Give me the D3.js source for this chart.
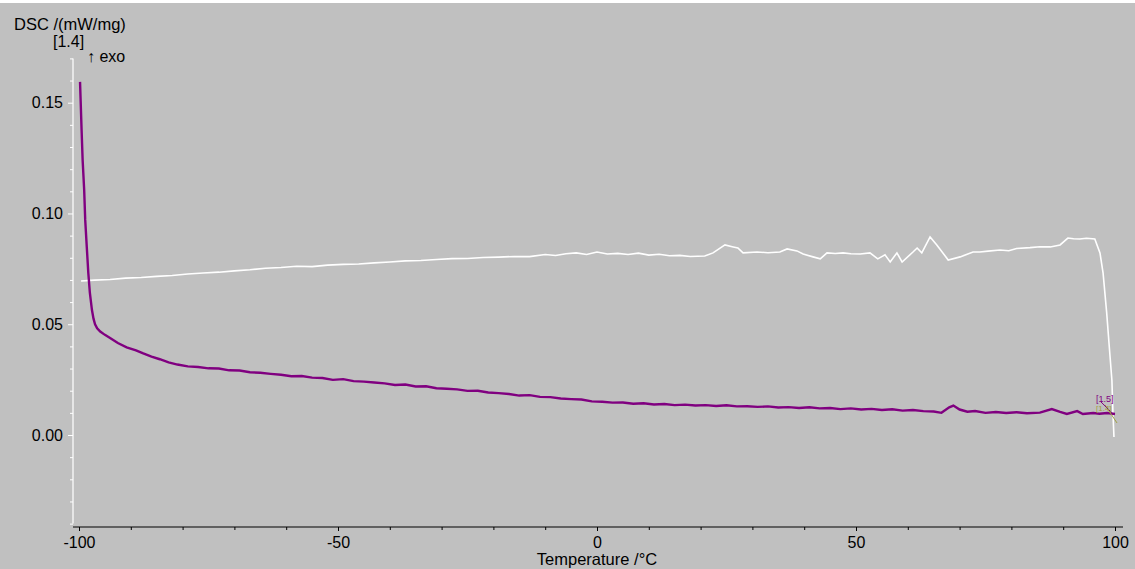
<!DOCTYPE html>
<html>
<head>
<meta charset="utf-8">
<script src="https://cdn.jsdelivr.net/npm/d3@7"></script>
<style>
  html, body { margin: 0; padding: 0; background: #c0c0c0; }
  svg { display: block; }
  text { font-family: "Liberation Sans", Arial, sans-serif; }
</style>
</head>
<body>
<svg id="chart" width="1135" height="569"></svg>
<script>
// DSC curves: temperature (°C) and heat flow (mW/mg)
const upperTemp = [-99.6,-97,-94,-91,-88,-85,-82,-79,-76,-73,-70,-67,-64,-61,-58,-55,-52,-49,-46,-43,-40,-37,-34,-31,-28,-25,-22,-19,-16,-13,-10,-8,-6,-4,-2,0,2,4,6,8,10,12,14,16,18,
  20.8,22.4,24.7,26.3,27.2,28.2,30.9,33,35.3,36.7,38.6,39.8,41.7,43.1,44.4,46,47.5,49,50.8,52.7,54.2,55.6,56.6,57.9,58.9,61.0,61.8,62.7,64.3,65.6,67.8,70.1,72.6,73.9,
  75.5,77.8,79.5,81,83.6,85.5,87.5,89.4,90.9,92,93.2,94.5,96.1,97.1,97.7,98.4,98.9,99.4,99.6,99.8];
const upperDsc = [0.0695,0.0699,0.0702,0.0708,0.0711,0.0716,0.0720,0.0727,0.0731,0.0735,0.0741,0.0746,0.0753,0.0756,0.0762,0.0760,0.0767,0.0770,0.0772,0.0777,0.0781,0.0786,0.0788,0.0792,0.0796,0.0797,0.0801,0.0803,0.0806,0.0805,0.0815,0.0810,0.0818,0.0822,0.0815,0.0826,0.0817,0.0820,0.0815,0.0821,0.0812,0.0816,0.0809,0.0811,0.0806,
  0.0808,0.0822,0.0858,0.0849,0.0844,0.0822,0.0826,0.0823,0.0826,0.0840,0.0831,0.0817,0.0804,0.0795,0.0822,0.0819,0.0822,0.0818,0.0817,0.0822,0.0795,0.0813,0.0781,0.0822,0.0781,0.0826,0.0844,0.0822,0.0894,0.0858,0.0790,0.0804,0.0826,0.0826,
  0.0830,0.0835,0.0832,0.0842,0.0846,0.0850,0.0849,0.0858,0.0889,0.0886,0.0885,0.0888,0.0885,0.0822,0.0731,0.0550,0.0397,0.0248,0.0100,-0.0009];

const lowerTemp = [-99.8,-99.5,-99.3,-99.0,-98.8,-98.5,-98.2,-97.9,-97.5,-97.2,-96.9,-96.5,-95.9,-95.0,-94.0,-92.5,-90.8,-89,-87.6,-86,-84.4,-82.7,
  -81,-79,-77,-75,-73,-71,-69,-67,-65,-63,-61,-59,-57,-55,-53,-51,-49,-47,-45,-43,-41,-39,-37,-35,-33,-31,-29,-27,-25,-23,-21,-19,-17,-15,-13,-11,-9,-7,-5,-3,-1,
  1,3,5,7,9,11,13,15,17,19,21,23,25,27,29,31,33,35,37,39,41,43,45,47,49,51,53,55,57,59,61,63,65,66.5,68,68.8,70,71.5,73,75,77,79,81,83,
  85.5,87.8,89.4,90.7,92.7,93.8,95.8,97,98.5,100];
const lowerDsc = [0.1594,0.1377,0.1242,0.1106,0.0971,0.0849,0.0731,0.0641,0.0564,0.0525,0.0500,0.0482,0.0467,0.0452,0.0438,0.0415,0.0396,0.0382,0.0368,0.0354,0.0342,0.0328,
  0.0318,0.0310,0.0307,0.0301,0.0300,0.0292,0.0291,0.0283,0.0281,0.0276,0.0272,0.0265,0.0266,0.0259,0.0257,0.0249,0.0252,0.0243,0.0241,0.0237,0.0233,0.0226,0.0228,0.0219,0.0220,0.0211,0.0209,0.0206,0.0199,0.0200,0.0192,0.0189,0.0185,0.0178,0.0180,0.0172,0.0171,0.0165,0.0162,0.0160,0.0152,
  0.0150,0.0146,0.0147,0.0141,0.0143,0.0138,0.0140,0.0135,0.0137,0.0133,0.0135,0.0131,0.0134,0.0129,0.0130,0.0127,0.0129,0.0124,0.0126,0.0122,0.0125,0.0120,0.0122,0.0117,0.0120,0.0115,0.0118,0.0113,0.0116,0.0110,0.0113,0.0108,0.0106,0.0100,0.0125,0.0133,0.0115,0.0105,0.0108,0.0100,0.0104,0.0099,0.0103,0.0098,
  0.0101,0.0117,0.0104,0.0095,0.0108,0.0095,0.0099,0.0096,0.0099,0.0095];

const xMajor = [-100, -50, 0, 50, 100];
const yMajor = [0.00, 0.05, 0.10, 0.15];

const svg = d3.select("#chart");
const x = d3.scaleLinear().domain([-100, 100]).range([79, 1115]);
const y = d3.scaleLinear().domain([0, 0.15]).range([435, 102.7]);

// thin white strip along the top edge
svg.append("rect").attr("x", 0).attr("y", 0).attr("width", 1135).attr("height", 3).attr("fill", "#ffffff");

// Y axis (white line, white ticks)
const yMinor = d3.range(-4, 18).map(i => i / 100).filter(v => !yMajor.some(m => Math.abs(m - v) < 1e-9));
const yMinorG = svg.append("g").attr("transform", "translate(73,0)")
  .call(d3.axisLeft(y).tickValues(yMinor).tickSize(3).tickFormat(""));
yMinorG.select(".domain").remove();
yMinorG.selectAll("line").attr("stroke", "#ffffff");
const yG = svg.append("g").attr("transform", "translate(73,0)")
  .call(d3.axisLeft(y).tickValues(yMajor).tickSize(5).tickPadding(5).tickFormat(d3.format(".2f")));
yG.select(".domain").remove();
yG.selectAll("line").attr("stroke", "#ffffff");
yG.selectAll("text").attr("fill", "#000").style("font-size", "16px");
svg.append("line").attr("x1", 73).attr("x2", 73).attr("y1", y(0.17)).attr("y2", y(-0.04))
  .attr("stroke", "#ffffff").attr("stroke-width", 1.2);

// X axis (black)
const xMinor = d3.range(-100, 101, 10).filter(v => !xMajor.includes(v));
const xMinorG = svg.append("g").attr("transform", "translate(0,527)")
  .call(d3.axisBottom(x).tickValues(xMinor).tickSize(3).tickFormat(""));
xMinorG.select(".domain").remove();
xMinorG.selectAll("line").attr("stroke", "#000");
const xG = svg.append("g").attr("transform", "translate(0,527)")
  .call(d3.axisBottom(x).tickValues(xMajor).tickSize(4).tickPadding(6).tickFormat(d => String(d)));
xG.select(".domain").remove();
xG.selectAll("line").attr("stroke", "#000");
xG.selectAll("text").attr("fill", "#000").style("font-size", "16px");
svg.append("line").attr("x1", 73).attr("x2", 1123).attr("y1", 527).attr("y2", 527)
  .attr("stroke", "#000").attr("stroke-width", 1.2);

// axis titles
svg.append("text").attr("x", 597).attr("y", 565).attr("text-anchor", "middle")
  .style("font-size", "16.5px").attr("fill", "#000").text("Temperature /°C");
svg.append("text").attr("x", 14).attr("y", 30)
  .style("font-size", "16.5px").attr("fill", "#000").text("DSC /(mW/mg)");
svg.append("text").attr("x", 53).attr("y", 47)
  .style("font-size", "16px").attr("fill", "#000").text("[1.4]");
svg.append("text").attr("x", 87).attr("y", 62)
  .style("font-size", "16px").attr("fill", "#000").text("↑ exo");

// curves
const line = d3.line().x(d => x(d[0])).y(d => y(d[1]));
const upper = upperTemp.map((t, i) => [t, upperDsc[i]]);
const lower = lowerTemp.map((t, i) => [t, lowerDsc[i]]);

svg.append("path").datum(upper).attr("d", line)
  .attr("fill", "none").attr("stroke", "#ffffff").attr("stroke-width", 1.6);
svg.append("path").datum(lower).attr("d", line)
  .attr("fill", "none").attr("stroke", "#800080").attr("stroke-width", 2.4);

// segment markers at the end of the lower curve
const endT = lowerTemp[lowerTemp.length - 1];
const endV = lowerDsc[lowerDsc.length - 1];
svg.append("line").attr("x1", x(endT) - 10).attr("y1", y(endV) - 9).attr("x2", x(endT) + 2).attr("y2", y(endV) + 9)
  .attr("stroke", "#a0a040").attr("stroke-width", 1);
svg.append("line").attr("x1", x(endT) - 14).attr("y1", y(endV) - 12).attr("x2", x(endT) - 1).attr("y2", y(endV) + 1)
  .attr("stroke", "#800080").attr("stroke-width", 1);
svg.append("text").attr("x", x(endT) - 19).attr("y", y(endV) - 12)
  .style("font-size", "9px").attr("fill", "#800080").text("[1.5]");
svg.append("text").attr("x", x(endT) - 19).attr("y", y(endV) - 3)
  .style("font-size", "8px").attr("fill", "#a0a040").text("[1.4]");
</script>
</body>
</html>
